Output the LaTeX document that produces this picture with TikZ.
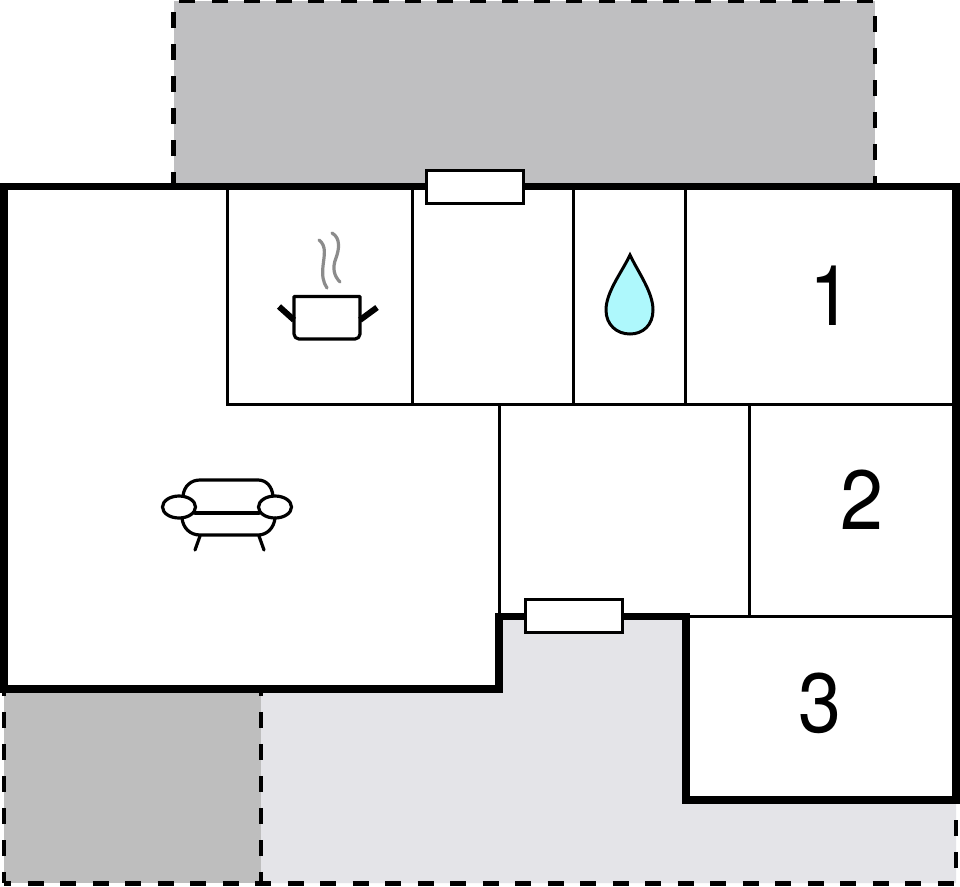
\documentclass[tikz,border=0pt]{standalone}
\usepackage{fontspec}
\setmainfont{TeX Gyre Heros}
\definecolor{roofgray}{HTML}{BFBFC1}
\definecolor{carport}{HTML}{BEBEBE}
\definecolor{terrace}{HTML}{E4E4E8}
\definecolor{dropblue}{HTML}{AEF8FC}
\definecolor{steam}{HTML}{8C8C8C}
\tikzset{
  outerwall/.style={line width=7.5pt,line join=miter},
  innerwall/.style={line width=3pt},
  dashline/.style={line width=4.6pt,dash pattern=on 16pt off 16pt},
  opening/.style={draw=black,fill=white,line width=3pt},
  roomno/.style={font=\fontsize{84}{84}\selectfont,inner sep=0pt,xscale=0.92},
  icon/.style={line width=3.2pt,line join=round,line cap=round}
}
\begin{document}
\begin{tikzpicture}[x=1pt,y=-1pt]
\useasboundingbox (0,0) rectangle (960,886);
\fill[white] (0,0) rectangle (960,886);
% outside areas
\fill[roofgray] (174,1) rectangle (875,186);
\fill[terrace] (261,689) -- (499,689) -- (499,616) -- (686,616) -- (686,800) -- (956,800) -- (956,883) -- (261,883) -- cycle;
\fill[carport] (4,689) rectangle (261,883);
% dashed edges
\draw[dashline,dash phase=21] (173.5,1) -- (173.5,186);
\draw[dashline,dash pattern=on 16pt off 16.25pt,dash phase=27] (174,1) -- (875,1);
\draw[dashline,dash phase=17] (875,1) -- (875,186);
\draw[dashline,dash phase=9] (4,689) -- (4,883);
\draw[dashline,dash phase=9] (261,689) -- (261,883);
\draw[dashline,dash pattern=on 16pt off 16.5pt,dash phase=9] (4,883.5) -- (956,883.5);
\draw[dashline,dash phase=12] (956,800) -- (956,883);
% inner walls
\draw[innerwall] (227,186) -- (227,404) -- (956,404);
\draw[innerwall] (412,186) -- (412,404);
\draw[innerwall] (573,186) -- (573,404);
\draw[innerwall] (685,186) -- (685,404);
\draw[innerwall] (499,404) -- (499,616);
\draw[innerwall] (749,404) -- (749,616);
\draw[innerwall] (686,616) -- (956,616);
% outer wall
\draw[outerwall] (4,186.5) -- (956,186.5) -- (956,800) -- (686,800) -- (686,616.5) -- (499,616.5) -- (499,689) -- (4,689) -- cycle;
% openings
\node[opening,minimum width=97pt,minimum height=33pt,inner sep=0pt,outer sep=0pt] (win1) at (474.5,186.5) {};
\node[opening,minimum width=97pt,minimum height=33pt,inner sep=0pt,outer sep=0pt] (win2) at (574,616) {};
% pot
\draw[icon,line cap=butt] (294,296.5) -- (360,296.5) -- (360,334) arc[start angle=0,end angle=90,radius=5] -- (299,339) arc[start angle=90,end angle=180,radius=5] -- cycle;
\draw[line width=6pt] (294,320) -- (279,306.5);
\draw[line width=6pt] (360,320) -- (377,307.5);
\draw[steam,line width=3.2pt,line cap=round] (319,240) .. controls (327,246) and (324,256) .. (323,266) .. controls (322,276) and (323,282) .. (327,288);
\draw[steam,line width=3.2pt,line cap=round] (332,233) .. controls (341,238) and (339,250) .. (336,258) .. controls (332,268) and (334,276) .. (340,282);
% drop
\draw[line width=3pt,fill=dropblue,line join=miter] (630,255) .. controls (622,272) and (606,292) .. (606,310) .. controls (606,325) and (617,334) .. (630,334) .. controls (643,334) and (653,325) .. (653,310) .. controls (653,292) and (638,272) .. (630,255) -- cycle;
% sofa
\draw[icon] (183,496) .. controls (184,486) and (191,480) .. (200,480) -- (258,480) .. controls (266,480) and (272,486) .. (273,496);
\draw[icon] (182,518) .. controls (183,528) and (190,535) .. (200,535) -- (258,535) .. controls (267,535) and (274,528) .. (275,518);
\draw[icon] (195,513) -- (259,513);
\draw[icon] (179,507) ellipse[x radius=16.5,y radius=11];
\draw[icon] (275,507) ellipse[x radius=16.5,y radius=11];
\draw[icon] (200,536) -- (195,550);
\draw[icon] (259,536) -- (264,550);
% room numbers
\node[roomno] (n1) at (831,296) {1};
\node[roomno] (n2) at (862,500) {2};
\node[roomno] (n3) at (820,703) {3};
\end{tikzpicture}
\end{document}
